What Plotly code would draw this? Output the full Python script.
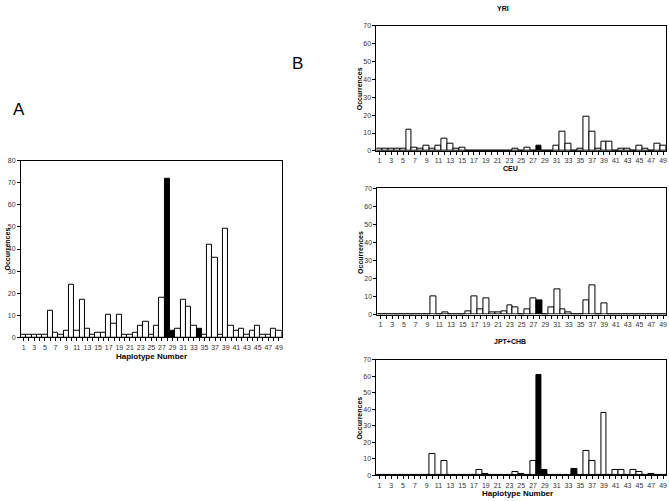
import plotly.graph_objects as go

# Haplotype numbers 1..49
haplotypes = list(range(1, 50))

# Occurrences per population
yri = [1, 1, 1, 1, 1, 12, 2, 1, 3, 1, 3, 7, 4, 1, 2, 0, 0, 0, 0, 0,
       0, 0, 0, 1, 0, 2, 0, 3, 0, 0, 3, 11, 4, 0, 1, 19, 11, 1, 5, 5,
       0, 1, 1, 0, 3, 1, 0, 4, 3]
ceu = [0, 0, 0, 0, 0, 0, 0, 0, 0, 10, 0, 1, 0, 0, 0, 2, 10, 3, 9, 1,
       1, 2, 5, 4, 0, 3, 9, 8, 0, 4, 14, 3, 1, 0, 0, 8, 16, 0, 6, 0,
       0, 0, 0, 0, 0, 0, 0, 0, 0]
jpt_chb = [0, 0, 0, 0, 0, 0, 0, 0, 0, 13, 0, 9, 0, 0, 0, 0, 0, 3, 1, 0,
           0, 0, 0, 2, 1, 0, 9, 61, 3, 0, 0, 0, 0, 4, 0, 15, 9, 0, 38, 0,
           3, 3, 0, 3, 2, 0, 1, 0, 0]
# Panel A: all populations
total = [1, 1, 1, 1, 1, 12, 2, 1, 3, 24, 3, 17, 4, 1, 2, 2, 10, 6, 10, 1,
         1, 2, 5, 7, 1, 5, 18, 72, 3, 4, 17, 14, 5, 4, 1, 42, 36, 1, 49, 5,
         3, 4, 1, 3, 5, 1, 1, 4, 3]

# haplotypes drawn in black
black_haps = [28, 29, 34]

W, H = 669, 501
fills = ["black" if h in black_haps else "white" for h in haplotypes]
tick_text = [str(h) if h % 2 == 1 else "" for h in haplotypes]

panels = [
    # (values, x-domain px, y-domain px (top, bottom), y max)
    (total, (21, 282), (159, 338), 80),
    (yri, (377, 667), (22, 149), 70),
    (ceu, (378, 667), (187, 315), 70),
    (jpt_chb, (377, 667), (361, 478), 70),
]

fig = go.Figure()
layout = {}
for i, (vals, (x0, x1), (yt, yb), ymax) in enumerate(panels):
    n = "" if i == 0 else str(i + 1)
    fig.add_trace(go.Bar(
        x=haplotypes, y=vals,
        marker=dict(color=fills, line=dict(color="black", width=1)),
        xaxis="x" + n, yaxis="y" + n, showlegend=False,
    ))
    layout["xaxis" + n] = dict(
        domain=[x0 / W, x1 / W], anchor="y" + n,
        range=[0.5, 49.5], tickmode="array",
        tickvals=haplotypes, ticktext=tick_text,
        ticks="outside", ticklen=3, tickcolor="black",
        showline=True, linecolor="black", linewidth=1, mirror=True,
        showgrid=False, zeroline=False,
        tickfont=dict(size=7, color="#333"),
    )
    layout["yaxis" + n] = dict(
        domain=[1 - yb / H, 1 - yt / H], anchor="x" + n,
        range=[0, ymax], dtick=10,
        ticks="outside", ticklen=3, tickcolor="black",
        showline=True, linecolor="black", linewidth=1, mirror=True,
        showgrid=False, zeroline=False,
        tickfont=dict(size=7, color="#333"),
    )

def note(text, x, y, size=8, bold=True, angle=0):
    t = "<b>" + text + "</b>" if bold else text
    return dict(text=t, x=x / W, y=1 - y / H, xref="paper", yref="paper",
                xanchor="center", yanchor="middle",
                showarrow=False, textangle=angle,
                font=dict(size=size, color="black"))

annotations = [
    note("A", 19, 107, size=17, bold=False),
    note("B", 298, 60, size=17, bold=False),
    note("YRI", 504, 5, size=7),
    note("CEU", 511, 167, size=7),
    note("JPT+CHB", 511, 342, size=7),
    note("Haplotype Number", 152, 357),
    note("Haplotype Number", 518, 496),
    note("Occurrences", 8, 248, size=7, angle=-90),
    note("Occurrences", 360, 86, size=7, angle=-90),
    note("Occurrences", 361, 252, size=7, angle=-90),
    note("Occurrences", 360, 420, size=7, angle=-90),
]

fig.update_layout(
    width=W, height=H,
    margin=dict(l=0, r=0, t=0, b=0),
    paper_bgcolor="white", plot_bgcolor="white",
    bargap=0,
    font=dict(family="Liberation Sans, Arial, sans-serif"),
    annotations=annotations,
    **layout,
)

# drop the default page margin so the figure sits at the window's corner
fig.write_html("out.html", config={"displayModeBar": False},
               post_script="document.body.style.margin='0';")
